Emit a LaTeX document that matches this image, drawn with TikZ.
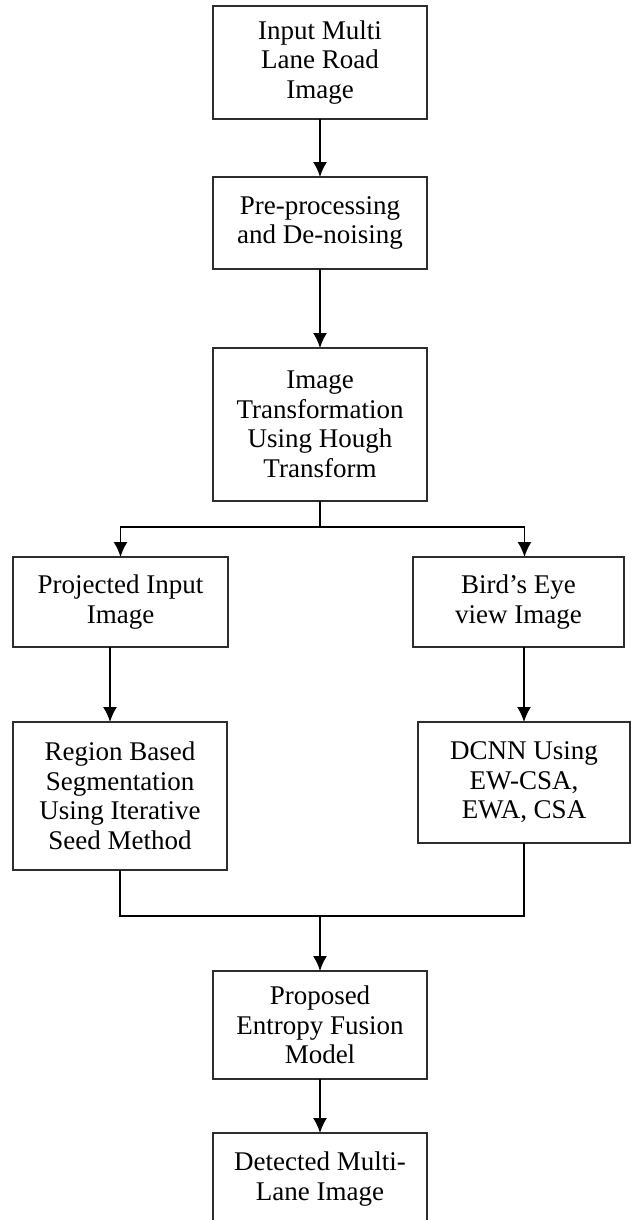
\documentclass[tikz,border=0pt]{standalone}
\usepackage{fontspec}
\setmainfont{Liberation Serif}
\usetikzlibrary{arrows.meta}
\definecolor{boxline}{RGB}{45, 45, 45}
\tikzset{
    step label/.style={
        font=\fontsize{27}{29.5}\selectfont,
        align=center
    }
}

\begin{document}
\begin{tikzpicture}[x=1pt, y=-1pt, thick, >={Latex[length=15pt,width=14pt]}]

    \tikzstyle{stage} = [
        rectangle,
        draw=boxline,
        line width=1.6pt,
        inner sep=0pt,
        outer sep=0pt,
        minimum width=214pt,
        step label
    ]
    \tikzstyle{flow} = [
        draw=black,
        line width=1.7pt
    ]

    \useasboundingbox (0,0) rectangle (631,1220);

    % Les étapes
    \node[stage, minimum height=113pt] (input) at (320,62.5) {Input Multi\\Lane Road\\Image};
    \node[stage, minimum height=92pt] (prep) at (320,223) {Pre-processing\\and De-noising};
    \node[stage, minimum height=153pt] (hough) at (320,424.5) {Image\\Transformation\\Using Hough\\Transform};
    \node[stage, minimum height=90pt, minimum width=215pt] (proj) at (120.5,602) {Projected Input\\Image};
    \node[stage, minimum height=90pt, minimum width=211pt] (bird) at (518.5,602) {Bird's Eye\\view Image};
    \node[stage, minimum height=148pt] (region) at (120,796) {Region Based\\Segmentation\\Using Iterative\\Seed Method};
    \node[stage, minimum height=121pt, minimum width=212pt] (dcnn) at (524,782.5) {DCNN Using\\EW-CSA,\\EWA, CSA};
    \node[stage, minimum height=108pt] (fusion) at (320,1025) {Proposed\\Entropy Fusion\\Model};
    \node[stage, minimum height=92pt] (detect) at (320,1179) {Detected Multi-\\Lane Image};

    % Points de branchement
    \coordinate (split) at (320,527);
    \coordinate (merge) at (320,916);

    % Les flèches
    \path[flow, ->] (input) edge (prep)
        (prep) edge (hough);
    \draw[flow] (hough) -- (split);
    \draw[flow, ->] (split) -| (proj);
    \draw[flow, ->] (split) -| ([xshift=6pt]bird.north);
    \draw[flow, ->] ([xshift=-10pt]region.north |- proj.south) -- ([xshift=-10pt]region.north);
    \draw[flow, ->] (dcnn.north |- bird.south) -- (dcnn.north);
    \draw[flow] (region.south) |- (merge) -| (dcnn.south);
    \draw[flow, ->] (merge) -- (fusion);
    \draw[flow, ->] (fusion) -- (detect);

\end{tikzpicture}
\end{document}
